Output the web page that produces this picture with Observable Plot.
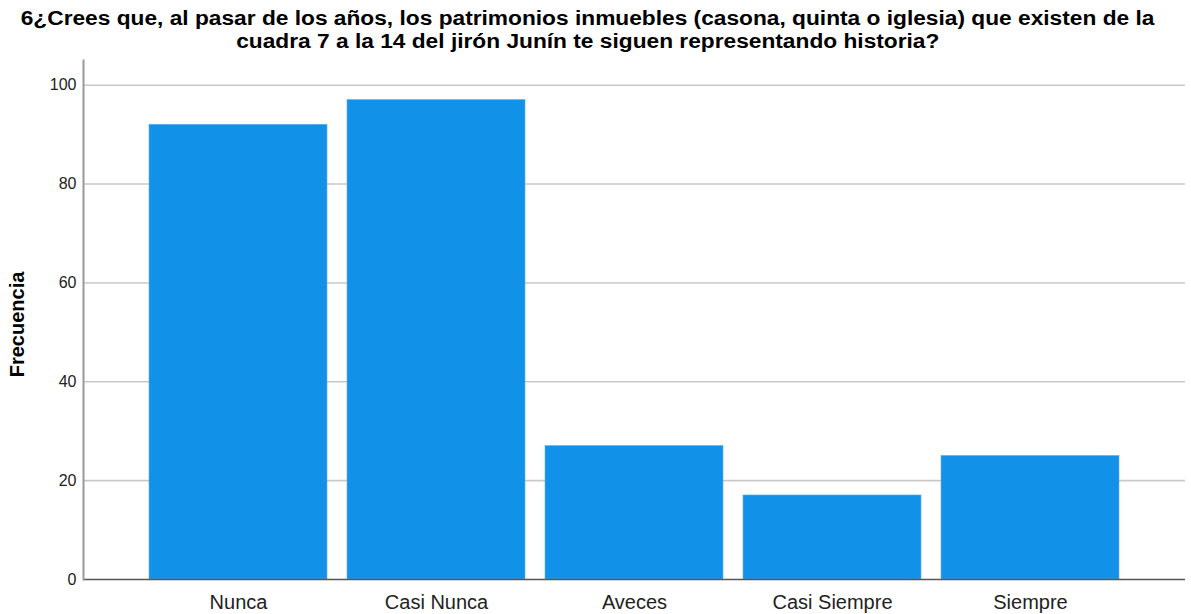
<!DOCTYPE html>
<html>
<head>
<meta charset="utf-8">
<script src="https://cdn.jsdelivr.net/npm/d3@7"></script>
<script src="https://cdn.jsdelivr.net/npm/@observablehq/plot@0.6"></script>
<style>
  html, body { margin: 0; padding: 0; background: #fff; }
  #title {
    width: 1175px; height: 52px; box-sizing: border-box;
    padding-top: 7px;
    text-align: center; white-space: nowrap;
    font-family: "Liberation Sans", Arial, sans-serif;
    font-weight: bold; font-size: 19.5px; line-height: 22.5px; color: #000;
  }
  #title span { display: inline-block; transform: scaleX(1.165); transform-origin: center; }
  #chart svg { display: block; }
</style>
</head>
<body>
<div id="title"><span>6¿Crees que, al pasar de los años, los patrimonios inmuebles (casona, quinta o iglesia) que existen de la</span><br><span>cuadra 7 a la 14 del jirón Junín te siguen representando historia?</span></div>
<div id="chart"></div>
<script>
const categories = ["Nunca", "Casi Nunca", "Aveces", "Casi Siempre", "Siempre"];
const frecuencia = [92, 97, 27, 17, 25];
const yTicks = [0, 20, 40, 60, 80, 100];
const yLabel = "Frecuencia";

const data = categories.map((c, i) => ({categoria: c, frecuencia: frecuencia[i]}));

const chart = Plot.plot({
  width: 1191,
  height: 562,
  marginLeft: 83,
  marginRight: 6,
  marginTop: 8,
  marginBottom: 35,
  style: {fontFamily: "'Liberation Sans', Arial, sans-serif", background: "#fff"},
  x: {domain: categories, range: [138.6, 1129.9], paddingInner: 0.1, paddingOuter: 0.05, label: null},
  y: {domain: [0, 105], label: null},
  marks: [
    Plot.ruleY(yTicks.filter(d => d > 0), {stroke: "#c8c8c8", strokeWidth: 1.6}),
    Plot.barY(data, {x: "categoria", y: "frecuencia", fill: "#1192e8", stroke: "#5fb3ee", strokeWidth: 0.6}),
    Plot.ruleY([0], {stroke: "#555", strokeWidth: 1.4}),
    Plot.frame({anchor: "left", stroke: "#999", strokeWidth: 2}),
    Plot.axisY(yTicks, {tickSize: 0, tickPadding: 7, fontSize: 16, fill: "#222", label: null}),
    Plot.axisX({tickSize: 0, tickPadding: 15, fontSize: 20, fill: "#222", label: null}),
    Plot.text([yLabel], {frameAnchor: "left", textAnchor: "middle", dx: -66, dy: 4.5, rotate: -90, fontSize: 20, fontWeight: "bold", fill: "#000"})
  ]
});
document.getElementById("chart").appendChild(chart);
</script>
</body>
</html>
